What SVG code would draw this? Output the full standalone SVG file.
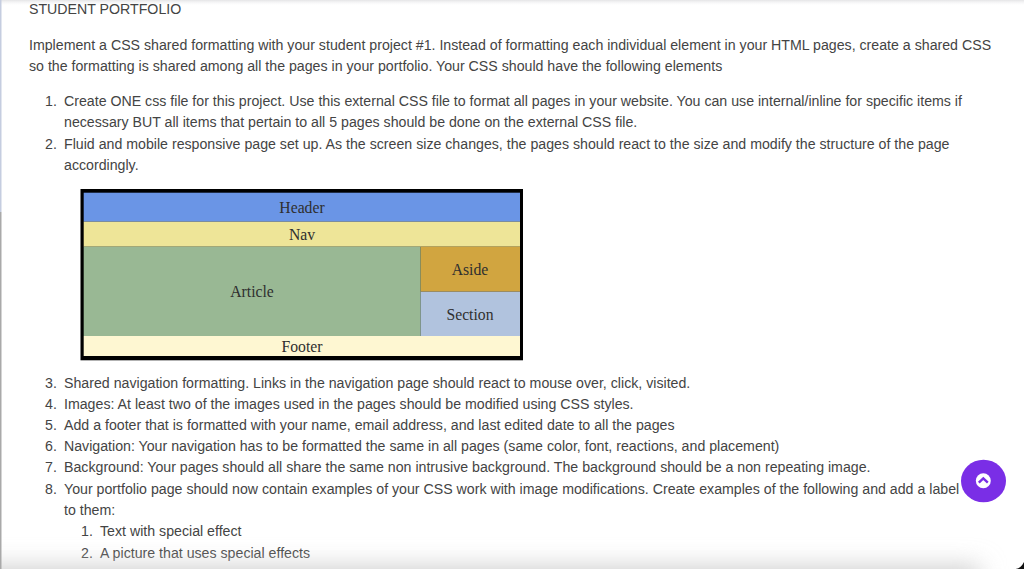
<svg xmlns="http://www.w3.org/2000/svg" width="1024" height="569" viewBox="0 0 1024 569">
<defs>
<linearGradient id="top" x1="0" y1="0" x2="0" y2="1"><stop offset="0" stop-color="#e4e4e6"/><stop offset="1" stop-color="#fff" stop-opacity="0"/></linearGradient>
<filter id="soft" x="-10%" y="-300%" width="120%" height="700%"><feGaussianBlur stdDeviation="12"/></filter>
</defs>
<style>
.t{font-family:"Liberation Sans",Arial,sans-serif;font-size:14.18px;fill:#444}
.c{font-family:"Liberation Serif","Times New Roman",serif;font-size:15.7px;fill:#2f2f2f;text-anchor:middle}
</style>
<rect width="1024" height="569" fill="#fff"/>
<rect x="0" y="0" width="1024" height="6" fill="url(#top)"/>
<g id="text">
<text class="t" x="29" y="14">STUDENT PORTFOLIO</text>
<text class="t" x="29" y="50">Implement a CSS shared formatting with your student project #1. Instead of formatting each individual element in your HTML pages, create a shared CSS</text>
<text class="t" x="29" y="71">so the formatting is shared among all the pages in your portfolio. Your CSS should have the following elements</text>
<text class="t" x="45" y="106">1.</text>
<text class="t" x="64" y="106">Create ONE css file for this project. Use this external CSS file to format all pages in your website. You can use internal/inline for specific items if</text>
<text class="t" x="64" y="127">necessary BUT all items that pertain to all 5 pages should be done on the external CSS file.</text>
<text class="t" x="45" y="149">2.</text>
<text class="t" x="64" y="149">Fluid and mobile responsive page set up. As the screen size changes, the pages should react to the size and modify the structure of the page</text>
<text class="t" x="64" y="170">accordingly.</text>
<text class="t" x="45" y="388">3.</text>
<text class="t" x="64" y="388">Shared navigation formatting. Links in the navigation page should react to mouse over, click, visited.</text>
<text class="t" x="45" y="409">4.</text>
<text class="t" x="64" y="409">Images: At least two of the images used in the pages should be modified using CSS styles.</text>
<text class="t" x="45" y="430">5.</text>
<text class="t" x="64" y="430">Add a footer that is formatted with your name, email address, and last edited date to all the pages</text>
<text class="t" x="45" y="451">6.</text>
<text class="t" x="64" y="451">Navigation: Your navigation has to be formatted the same in all pages (same color, font, reactions, and placement)</text>
<text class="t" x="45" y="472">7.</text>
<text class="t" x="64" y="472">Background: Your pages should all share the same non intrusive background. The background should be a non repeating image.</text>
<text class="t" x="45" y="494">8.</text>
<text class="t" x="64" y="494">Your portfolio page should now contain examples of your CSS work with image modifications. Create examples of the following and add a label</text>
<text class="t" x="64" y="515">to them:</text>
<text class="t" x="81" y="536">1.</text>
<text class="t" x="100" y="536">Text with special effect</text>
<text class="t" x="81" y="558">2.</text>
<text class="t" x="100" y="558">A picture that uses special effects</text>
</g>
<rect x="-40" y="566" width="1020" height="30" fill="#cfcfcf" filter="url(#soft)"/>
<rect x="0" y="0" width="1.500" height="212" fill="#c5cde0"/>
<rect x="0" y="212" width="1.500" height="357" fill="#a9a9a9"/>
<path d="M1016 569Q1021 568 1024 562V569Z" fill="#111"/>
<g id="layout">
<rect x="80.500" y="189" width="442.500" height="171.300" fill="#000"/>
<g id="header"><rect x="83.700" y="192.700" width="436.300" height="29" fill="#6a95e6"/><text class="c" x="302" y="212.500">Header</text></g>
<g id="nav"><rect x="83.700" y="221.700" width="436.300" height="25" fill="#eee598"/><text class="c" x="302" y="239.500">Nav</text></g>
<g id="article"><rect x="83.700" y="246.700" width="337" height="89.300" fill="#99b894"/><text class="c" x="252" y="297">Article</text></g>
<g id="aside"><rect x="420.700" y="246.700" width="99.300" height="45" fill="#d1a540"/><text class="c" x="470" y="275">Aside</text></g>
<g id="section"><rect x="420.700" y="291.700" width="99.300" height="44.300" fill="#b1c3de"/><text class="c" x="470" y="319.500">Section</text></g>
<g id="footer"><rect x="83.700" y="336" width="436.300" height="20" fill="#fef7d2"/><text class="c" x="302" y="352">Footer</text></g>
</g>
<g id="scroll-top">
<ellipse cx="983.500" cy="481" rx="22.500" ry="21.300" fill="#7a2ee6"/>
<circle cx="983.300" cy="480.700" r="7.500" fill="#fff"/>
<path d="M978.800 482.600L983.300 478.300L987.800 482.600" fill="none" stroke="#7a2ee6" stroke-width="2.400"/>
</g>
</svg>
